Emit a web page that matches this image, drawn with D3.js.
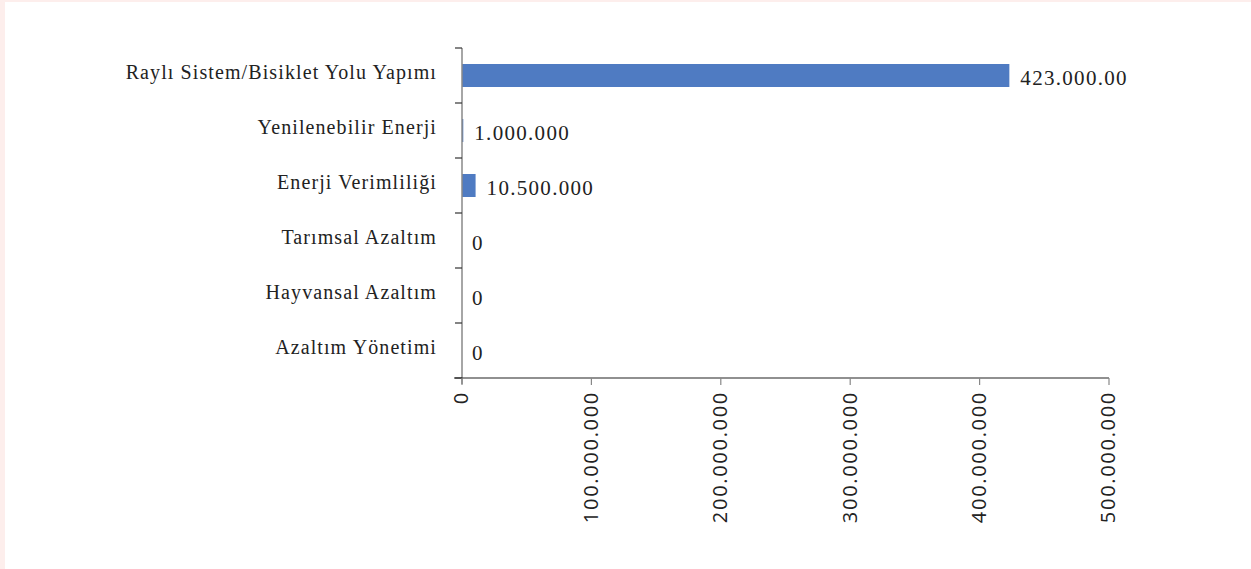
<!DOCTYPE html>
<html><head><meta charset="utf-8">
<script src="https://cdn.jsdelivr.net/npm/d3@7"></script>
<style>
html,body{margin:0;padding:0;background:#fff;}
svg{display:block;}
</style></head>
<body>
<svg id="c" width="1251" height="569"></svg>
<script>
const categories = ["Raylı Sistem/Bisiklet Yolu Yapımı","Yenilenebilir Enerji","Enerji Verimliliği","Tarımsal Azaltım","Hayvansal Azaltım","Azaltım Yönetimi"];
const values = [423000000, 1000000, 10500000, 0, 0, 0];
const valueLabels = ["423.000.00","1.000.000","10.500.000","0","0","0"];
const xTicks = [0,100000000,200000000,300000000,400000000,500000000];
const xTickLabels = ["0","100.000.000","200.000.000","300.000.000","400.000.000","500.000.000"];

(function(){
const svg = d3.select("#c");
// page border
svg.append("rect").attr("x",0).attr("y",0).attr("width",1251).attr("height",569).attr("fill","#fdeeec");
svg.append("rect").attr("x",5).attr("y",2).attr("width",1246).attr("height",567).attr("fill","#fff");

const pl = 462, pr = 1109, pt = 48, pb = 378;
const x = d3.scaleLinear().domain([0,500000000]).range([pl,pr]);
const y = d3.scaleBand().domain(categories).range([pt,pb]);
const band = y.bandwidth();

// bars
svg.selectAll("rect.bar").data(values).enter().append("rect")
  .attr("class","bar")
  .attr("x",x(0))
  .attr("y",(d,i)=>y(categories[i]) + 16)
  .attr("width",d=>x(d)-x(0))
  .attr("height",23)
  .attr("fill","#4f7bc2");

// y axis line
svg.append("line").attr("x1",pl).attr("x2",pl).attr("y1",pt).attr("y2",pb+6)
  .attr("stroke","#888").attr("stroke-width",1.5);
// y ticks at boundaries
d3.range(categories.length+1).forEach(i=>{
  svg.append("line").attr("x1",pl-7).attr("x2",pl).attr("y1",pt+i*band).attr("y2",pt+i*band)
    .attr("stroke","#333").attr("stroke-width",1.2);
});
// category labels
svg.selectAll("text.cat").data(categories).enter().append("text")
  .attr("class","cat")
  .attr("x",437).attr("y",d=>y(d)+26)
  .attr("text-anchor","end").attr("dominant-baseline","middle")
  .attr("font-family","Liberation Serif, serif").attr("font-size",20).attr("letter-spacing",1.1).attr("fill","#222")
  .text(d=>d);

// x axis
svg.append("line").attr("x1",pl-8).attr("x2",pr).attr("y1",pb).attr("y2",pb)
  .attr("stroke","#222").attr("stroke-width",1.2);
xTicks.forEach(t=>{
  svg.append("line").attr("x1",x(t)).attr("x2",x(t)).attr("y1",pb).attr("y2",pb+7)
    .attr("stroke","#888").attr("stroke-width",1.2);
});
svg.selectAll("text.xt").data(xTicks).enter().append("text")
  .attr("class","xt")
  .attr("transform",(d)=>`translate(${x(d)+1},391) rotate(-90)`)
  .attr("text-anchor","end").attr("dominant-baseline","middle")
  .attr("font-family","Open Sans, sans-serif").attr("font-size",20).attr("letter-spacing",1.7).attr("fill","#222")
  .text((d,i)=>xTickLabels[i]);

// value labels
svg.selectAll("text.val").data(values).enter().append("text")
  .attr("class","val")
  .attr("x",(d)=>x(d)+ (d===0?10:11))
  .attr("y",(d,i)=>y(categories[i])+32)
  .attr("dominant-baseline","middle")
  .attr("font-family","Liberation Serif, serif").attr("font-size",21).attr("letter-spacing",1.3).attr("fill","#222")
  .text((d,i)=>valueLabels[i]);
})();
</script>
</body></html>
